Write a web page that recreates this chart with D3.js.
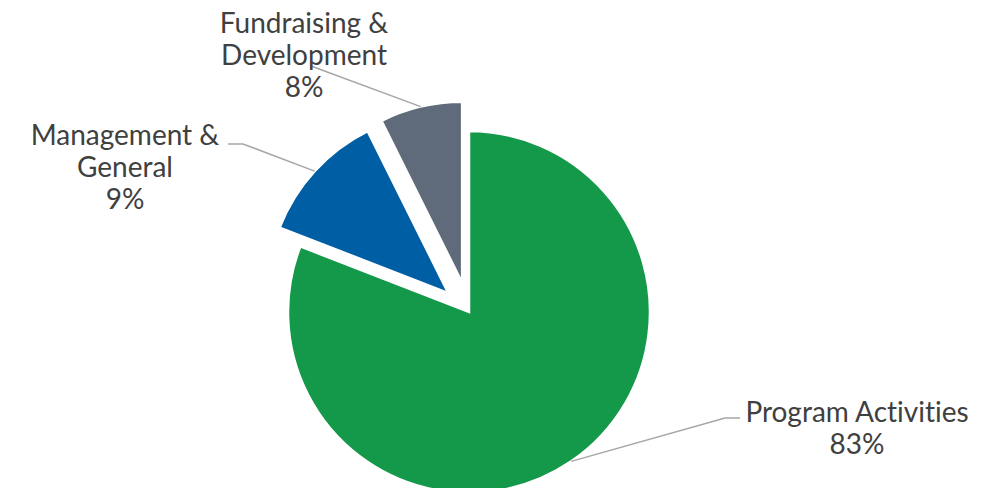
<!DOCTYPE html>
<html>
<head>
<meta charset="utf-8">
<script src="https://cdn.jsdelivr.net/npm/d3@7"></script>
<style>
  body { margin: 0; background: #fff; }
  text { font-variant-ligatures: none; }
</style>
</head>
<body>
<div id="chart"></div>
<script>
const categories = ["Program Activities", "Management & General", "Fundraising & Development"];
const shares = [80.9, 11.75, 7.35];
const pctLabels = ["83%", "9%", "8%"];
const labelLines = [["Program Activities"], ["Management &", "General"], ["Fundraising &", "Development"]];
const colors = ["#14984a", "#005ea5", "#5f6b7a"];

// set the dimensions of the graph
const width = 993, height = 488;
const cx = 469, cy = 312, radius = 181;
const explode = [0, 28, 30];

// where each label sits and where its leader line leaves it
const labelPos = [
  {x: 857, y: 422, line: [[740, 418], [725, 418]]},
  {x: 125, y: 145, line: [[228, 144], [243, 144]]},
  {x: 304, y: 33,  line: [[311, 66]]}
];

const svg = d3.select("#chart")
  .append("svg")
    .attr("width", width)
    .attr("height", height);

const pie = d3.pie().sort(null).value(d => d)(shares);
const arc = d3.arc().innerRadius(0).outerRadius(radius);

// offset of a slice along its bisector
function shift(d, i) {
  const a = (d.startAngle + d.endAngle) / 2;
  return [Math.sin(a) * explode[i], -Math.cos(a) * explode[i]];
}

const g = svg.append("g")
  .attr("transform", "translate(" + cx + "," + cy + ")");

g.selectAll("path.slice")
  .data(pie)
  .enter()
  .append("path")
    .attr("class", "slice")
    .attr("d", arc)
    .attr("transform", (d, i) => "translate(" + shift(d, i) + ")")
    .attr("fill", (d, i) => colors[i])
    .attr("stroke", "#fff")
    .attr("stroke-width", 2.5)
    .attr("stroke-linejoin", "miter");

// leader lines: label -> middle of the slice's outer edge
const line = d3.line();
svg.append("g")
  .selectAll("path.leader")
  .data(pie)
  .enter()
  .append("path")
    .attr("class", "leader")
    .attr("fill", "none")
    .attr("stroke", "#a6a6a6")
    .attr("stroke-width", 1.5)
    .attr("d", (d, i) => {
      const a = (d.startAngle + d.endAngle) / 2;
      const s = shift(d, i);
      const end = [cx + s[0] + Math.sin(a) * radius, cy + s[1] - Math.cos(a) * radius];
      return line(labelPos[i].line.concat([end]));
    });

// labels
const lineGap = 32;
const labels = svg.append("g")
  .attr("font-family", "Lato, 'Open Sans', sans-serif")
  .attr("font-size", 28)
  .attr("fill", "#404040")
  .attr("text-anchor", "middle")
  .selectAll("text")
  .data(categories)
  .enter()
  .append("text")
    .attr("x", (d, i) => labelPos[i].x)
    .attr("y", (d, i) => labelPos[i].y);

labels.each(function(d, i) {
  const t = d3.select(this);
  labelLines[i].concat([pctLabels[i]]).forEach((s, k) => {
    t.append("tspan")
      .attr("x", labelPos[i].x)
      .attr("dy", k === 0 ? 0 : lineGap)
      .text(s);
  });
});
</script>
</body>
</html>
